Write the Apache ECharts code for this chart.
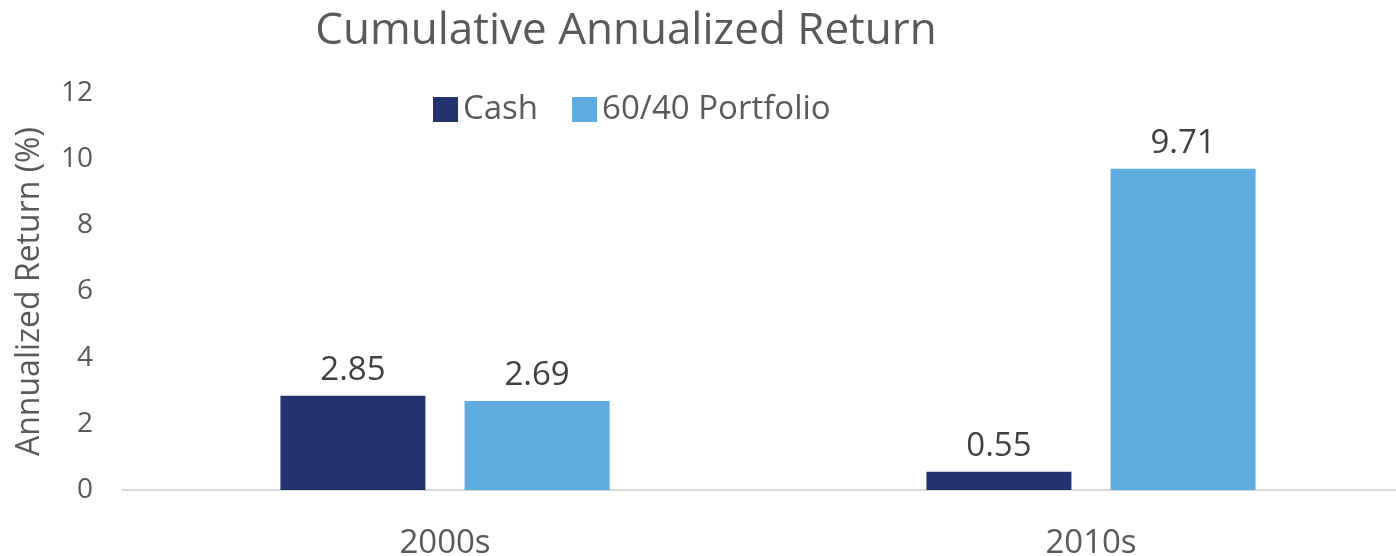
<!DOCTYPE html>
<html>
<head>
<meta charset="utf-8">
<script src="https://cdn.jsdelivr.net/npm/echarts@6/dist/echarts.min.js"></script>
<style>
    html, body { margin: 0; padding: 0; background: #fff; }
    #main { width: 1396px; height: 556px; }
</style>
</head>
<body>
<div id="main"></div>
<script>
// 数据
var categories = ['2000s', '2010s'];
var cashValues = [2.85, 0.55];
var portfolioValues = [2.69, 9.71];

var cashColor = '#223370';
var portfolioColor = '#5DABDF';
var textColor = '#595959';
var fontName = 'Open Sans';

var myBar = echarts.init(document.getElementById('main'));

var labelStyle = {
    show: true,
    position: 'top',
    distance: 9,
    color: '#404040',
    fontSize: 33,
    fontFamily: fontName,
    formatter: function (p) { return p.value.toFixed(2); }
};

var option = {
    animation: false,
    title: {
        text: 'Cumulative Annualized Return',
        left: 621,
        top: 4,
        textAlign: 'center',
        textStyle: {
            color: textColor,
            fontSize: 44,
            fontWeight: 'normal',
            fontFamily: fontName
        }
    },
    legend: {
        left: 428,
        top: 88,
        itemWidth: 25,
        itemHeight: 25,
        itemGap: 34,
        icon: 'rect',
        textStyle: {
            color: textColor,
            fontSize: 33,
            fontFamily: fontName
        },
        data: ['Cash', '60/40 Portfolio']
    },
    grid: {
        left: 122,
        top: 93,
        width: 1292,
        bottom: 66,
        containLabel: false,
        outerBoundsMode: 'none'
    },
    xAxis: {
        type: 'category',
        data: categories,
        axisTick: { show: false },
        axisLine: {
            show: true,
            lineStyle: { color: '#d9d9d9', width: 2 }
        },
        axisLabel: {
            color: textColor,
            fontSize: 33,
            fontFamily: fontName,
            margin: 37
        }
    },
    yAxis: {
        type: 'value',
        min: 0,
        max: 12,
        interval: 2,
        name: 'Annualized Return (%)',
        nameLocation: 'middle',
        nameGap: 76,
        nameTextStyle: {
            color: textColor,
            fontSize: 32,
            fontFamily: fontName
        },
        axisLine: { show: false },
        axisTick: { show: false },
        splitLine: { show: false },
        axisLabel: {
            color: textColor,
            fontSize: 28,
            fontFamily: fontName,
            margin: 29
        }
    },
    series: [
        {
            name: 'Cash',
            type: 'bar',
            barWidth: 145,
            barGap: '27%',
            itemStyle: { color: cashColor },
            label: labelStyle,
            data: cashValues
        },
        {
            name: '60/40 Portfolio',
            type: 'bar',
            barWidth: 145,
            barGap: '27%',
            itemStyle: { color: portfolioColor },
            label: labelStyle,
            data: portfolioValues
        }
    ]
};

myBar.setOption(option);
</script>
</body>
</html>
